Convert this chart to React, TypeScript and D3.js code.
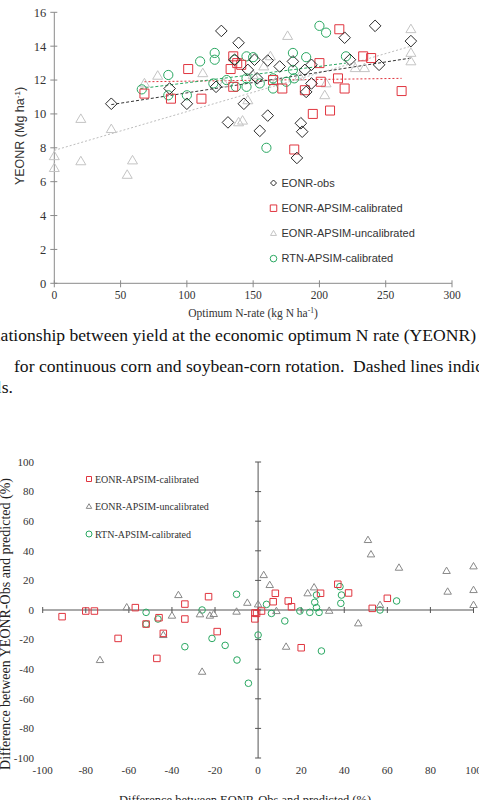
import React from 'react';
import * as d3 from 'd3';

// ---- top chart: YEONR vs optimum N-rate ----
const eonrObs = [[43,10.6],[87,11.5],[100,10.6],[122,11.6],[126,14.9],[131,9.5],[136,13.2],[139,14.2],[143,10.6],[146,12.6],[151,13.2],[153,12.1],[155,9.0],[161,13.15],[161,9.9],[170,12.8],[180,13.1],[183,7.4],[186,9.45],[187,8.95],[189,12.6],[190,11.3],[194,11.8],[194,12.9],[219,14.5],[223,13.2],[242,15.2],[245,12.9],[269,14.3]];
const eonrCal = [[68,11.2],[88,10.9],[101,12.65],[111,10.9],[133,12.65],[135,13.4],[135,11.6],[138,13.0],[141,12.9],[165,12.0],[172,11.5],[181,7.9],[189,11.4],[195,10.0],[200,13.0],[201,11.9],[208,10.2],[214,12.1],[215,15.0],[219,11.5],[233,13.4],[239,13.3],[262,11.35]];
const eonrUncal = [[0,7.5],[0,6.8],[20,9.7],[20,7.2],[43,9.1],[55,6.4],[59,7.25],[68,11.8],[78,12.25],[112,12.4],[128,11.8],[139,9.5],[142,9.6],[146,10.8],[150,12.3],[158,12.8],[163,13.4],[168,12.0],[176,14.6],[185,12.2],[204,11.1],[205,11.8],[227,12.7],[234,12.7],[269,15.0],[269,13.6],[269,13.1]];
const rtnCal = [[66,11.45],[86,12.3],[86,11.1],[100,11.1],[110,13.1],[121,13.6],[121,13.2],[120,11.8],[130,12.0],[136,13.2],[137,11.6],[145,13.4],[145,12.1],[145,11.6],[150,13.35],[155,11.8],[160,8.0],[165,12.1],[165,11.5],[175,11.9],[180,13.6],[180,12.6],[181,12.1],[190,13.35],[200,15.2],[205,14.8],[220,13.4]];

// trend line end points [x0, y0, x1, y1]
const trendObs = [43, 10.55, 269, 13.3];
const trendCal = [68, 11.9, 262, 12.1];
const trendUncal = [0, 7.85, 269, 14.0];
const trendRtn = [65, 11.5, 220, 13.0];

const topXTicks = [0, 50, 100, 150, 200, 250, 300];
const topYTicks = [0, 2, 4, 6, 8, 10, 12, 14, 16];

// ---- bottom chart: differences (%) ----
const diffCal = [[-91,-4.5],[-80,-0.7],[-76,-0.7],[-57,1.6],[-52,-9.5],[-46,-5.2],[-47,-32.7],[-44,-15.8],[-65,-19.2],[-34,4.0],[-34,-6.1],[-23,9.0],[-19,-14.6],[-1.5,-2],[-1.5,-6],[-0.7,-2.3],[1.6,-0.7],[7,5.6],[8,11.3],[14,6.1],[15.5,2.2],[20,-25.5],[29,11.3],[37,17.4],[42,11.5],[53,1.1],[60,7.9]];
const diffUncal = [[-73.4,-33.8],[-61,1.8],[-44,-16.9],[-40,-3.8],[-37,10.1],[-27,-2.9],[-26,-41.7],[-22.4,-3.8],[-20.6,-2.7],[-10,-1.1],[-5,4.9],[0,3.8],[2.6,23.6],[5.4,16.9],[8.5,-0.7],[13,-24.8],[23,11.3],[26,15.3],[33,-0.5],[46.5,-9],[51,47.3],[52.4,37.6],[56.6,3.4],[65.4,28.6],[87.5,26.4],[88,12.4],[100,29.5],[100,13.5],[100,3.4]];
const diffRtn = [[-52,-1.6],[-52,-9.5],[-46.5,-6.1],[-34,-24.8],[-26,0],[-21.4,-19.2],[-15.3,-23.9],[-10,10.6],[-9.8,-33.8],[-4.5,-49.5],[0,-16.9],[3.9,3.8],[6.2,-2.3],[12.4,-7.4],[19.4,-0.7],[24,-1.6],[26.3,5.2],[27.1,10.1],[27.1,1.6],[28.3,-1.6],[29.4,-27.7],[38,15.8],[38.7,10.1],[38.4,4.5],[56.6,0],[64.3,6.1]];

const botTicks = [-100, -80, -60, -40, -20, 0, 20, 40, 60, 80, 100];

const topLegend = ['EONR-obs', 'EONR-APSIM-calibrated', 'EONR-APSIM-uncalibrated', 'RTN-APSIM-calibrated'];
const botLegend = ['EONR-APSIM-calibrated', 'EONR-APSIM-uncalibrated', 'RTN-APSIM-calibrated'];

const RED = '#e0353f';
const GREEN = '#2aa862';
const LIGHTGRAY = '#c4c4c4';
const SERIF = '"Liberation Serif", "Times New Roman", serif';
const SANS = '"Liberation Sans", Arial, sans-serif';

function diamond(x, y, r) {
  return `M${x},${y - r}L${x + r},${y}L${x},${y + r}L${x - r},${y}Z`;
}
function square(x, y, s) {
  return `M${x - s / 2},${y - s / 2}h${s}v${s}h${-s}Z`;
}
function triangle(x, y, w) {
  const h = w * 0.85;
  return `M${x},${y - h * 0.6}L${x + w / 2},${y + h * 0.4}L${x - w / 2},${y + h * 0.4}Z`;
}

const App = () => {
  const xT = d3.scaleLinear([0, 300], [54.3, 452]);
  const yT = d3.scaleLinear([0, 16], [283.3, 12.3]);
  const xB = d3.scaleLinear([-100, 100], [42.7, 473.5]);
  const yB = d3.scaleLinear([-100, 100], [758, 462]);

  const trend = (t, color, dash) => (
    <line x1={xT(t[0])} y1={yT(t[1])} x2={xT(t[2])} y2={yT(t[3])}
      stroke={color} strokeWidth={1} strokeDasharray={dash} />
  );

  return (
    <svg width={479} height={800} style={{ position: 'absolute', left: 0, top: 0, background: '#fff' }}>
      <rect width={479} height={800} fill="#fff" />

      {/* ===== top chart ===== */}
      <g>
        <line x1={xT(0)} x2={xT(0)} y1={yT(0)} y2={yT(16)} stroke="#8a8a8a" />
        <line x1={xT(0)} x2={xT(300)} y1={yT(0)} y2={yT(0)} stroke="#8a8a8a" />
        {topYTicks.map(t => (
          <g key={'ty' + t}>
            <line x1={xT(0) - 4} x2={xT(0) + 3} y1={yT(t)} y2={yT(t)} stroke="#8a8a8a" />
            <text x={xT(0) - 8} y={yT(t)} dy="0.35em" textAnchor="end" fontFamily={SERIF} fontSize={12.5} fill="#333">{t}</text>
          </g>
        ))}
        {topXTicks.map(t => (
          <g key={'tx' + t}>
            <line x1={xT(t)} x2={xT(t)} y1={yT(0) - 3} y2={yT(0) + 4} stroke="#8a8a8a" />
            <text x={xT(t)} y={yT(0) + 16} textAnchor="middle" fontFamily={SERIF} fontSize={11.5} fill="#333">{t}</text>
          </g>
        ))}
        <text transform={`translate(24,136) rotate(-90)`} textAnchor="middle" fontFamily={SANS} fontSize={12.5} fill="#333">
          YEONR (Mg ha<tspan dy="-4" fontSize={8}>-1</tspan><tspan dy="4">)</tspan>
        </text>
        <text x={253} y={317} textAnchor="middle" fontFamily={SERIF} fontSize={11.5} fill="#333">
          Optimum N-rate (kg N ha<tspan dy="-4" fontSize={7.5}>-1</tspan><tspan dy="4">)</tspan>
        </text>

        {trend(trendUncal, '#bdbdbd', '2,2')}
        {trend(trendCal, RED, '2,2')}
        {trend(trendRtn, GREEN, '3,2')}
        {trend(trendObs, '#333', '3,2')}

        {eonrUncal.map((d, i) => (
          <path key={'u' + i} d={triangle(xT(d[0]), yT(d[1]), 10)} fill="none" stroke={LIGHTGRAY} strokeWidth={1} />
        ))}
        {rtnCal.map((d, i) => (
          <circle key={'g' + i} cx={xT(d[0])} cy={yT(d[1])} r={4.6} fill="none" stroke={GREEN} strokeWidth={1} />
        ))}
        {eonrCal.map((d, i) => (
          <path key={'r' + i} d={square(xT(d[0]), yT(d[1]), 9)} fill="none" stroke={RED} strokeWidth={1} />
        ))}
        {eonrObs.map((d, i) => (
          <path key={'b' + i} d={diamond(xT(d[0]), yT(d[1]), 5.8)} fill="none" stroke="#2a2a2a" strokeWidth={1} />
        ))}

        {topLegend.map((name, i) => {
          const ly = 183 + i * 25.2;
          const mx = 273.5;
          let marker;
          if (i === 0) marker = <path d={diamond(mx, ly, 3)} fill="none" stroke="#2a2a2a" />;
          else if (i === 1) marker = <path d={square(mx, ly, 6.5)} fill="none" stroke={RED} />;
          else if (i === 2) marker = <path d={triangle(mx, ly, 6)} fill="none" stroke={LIGHTGRAY} />;
          else marker = <circle cx={mx} cy={ly} r={3.3} fill="none" stroke={GREEN} />;
          return (
            <g key={'tl' + i}>
              {marker}
              <text x={281.5} y={ly} dy="0.35em" fontFamily={SANS} fontSize={11} fill="#333">{name}</text>
            </g>
          );
        })}
      </g>

      {/* ===== caption ===== */}
      <g fontFamily={SERIF} fontSize={17.6} fill="#111">
        <text x={476} y={341} textAnchor="end">relationship between yield at the economic optimum N rate (YEONR)</text>
        <text x={14} y={372} xmlSpace="preserve">for continuous corn and soybean-corn rotation.  Dashed lines indicate trends</text>
        <text x={13} y={393} textAnchor="end">models.</text>
      </g>

      {/* ===== bottom chart ===== */}
      <g>
        <line x1={xB(-100)} x2={xB(100)} y1={yB(0)} y2={yB(0)} stroke="#555" />
        <line x1={xB(0)} x2={xB(0)} y1={yB(100)} y2={yB(-100)} stroke="#555" />
        {botTicks.map(t => (
          <g key={'bx' + t}>
            <line x1={xB(t)} x2={xB(t)} y1={yB(0) - 3} y2={yB(0) + 3} stroke="#555" />
            <text x={xB(t)} y={774} textAnchor="middle" fontFamily={SERIF} fontSize={11} fill="#333">{t}</text>
          </g>
        ))}
        {botTicks.map(t => (
          <g key={'by' + t}>
            <line x1={xB(0) - 3} x2={xB(0) + 3} y1={yB(t)} y2={yB(t)} stroke="#555" />
            <text x={34} y={yB(t)} dy="0.35em" textAnchor="end" fontFamily={SERIF} fontSize={11} fill="#333">{t}</text>
          </g>
        ))}
        <text transform={`translate(9.5,624) rotate(-90)`} textAnchor="middle" fontFamily={SERIF} fontSize={14} fill="#222">
          Difference between YEONR-Obs and predicted (%)
        </text>
        <text x={245} y={804} textAnchor="middle" fontFamily={SERIF} fontSize={12.5} fill="#222">
          Difference between EONR-Obs and predicted (%)
        </text>

        {diffRtn.map((d, i) => (
          <circle key={'bg' + i} cx={xB(d[0])} cy={yB(d[1])} r={3.3} fill="none" stroke={GREEN} strokeWidth={1} />
        ))}
        {diffUncal.map((d, i) => (
          <path key={'bu' + i} d={triangle(xB(d[0]), yB(d[1]), 7.5)} fill="none" stroke="#888" strokeWidth={1} />
        ))}
        {diffCal.map((d, i) => (
          <path key={'br' + i} d={square(xB(d[0]), yB(d[1]), 6.5)} fill="none" stroke={RED} strokeWidth={1} />
        ))}

        {botLegend.map((name, i) => {
          const ly = 479 + i * 27.5;
          const mx = 89;
          let marker;
          if (i === 0) marker = <path d={square(mx, ly, 5)} fill="none" stroke={RED} />;
          else if (i === 1) marker = <path d={triangle(mx, ly, 5.5)} fill="none" stroke="#888" />;
          else marker = <circle cx={mx} cy={ly} r={3} fill="none" stroke={GREEN} />;
          return (
            <g key={'bl' + i}>
              {marker}
              <text x={95} y={ly} dy="0.35em" fontFamily={SERIF} fontSize={10} fill="#333">{name}</text>
            </g>
          );
        })}
      </g>
    </svg>
  );
};

export default App;
